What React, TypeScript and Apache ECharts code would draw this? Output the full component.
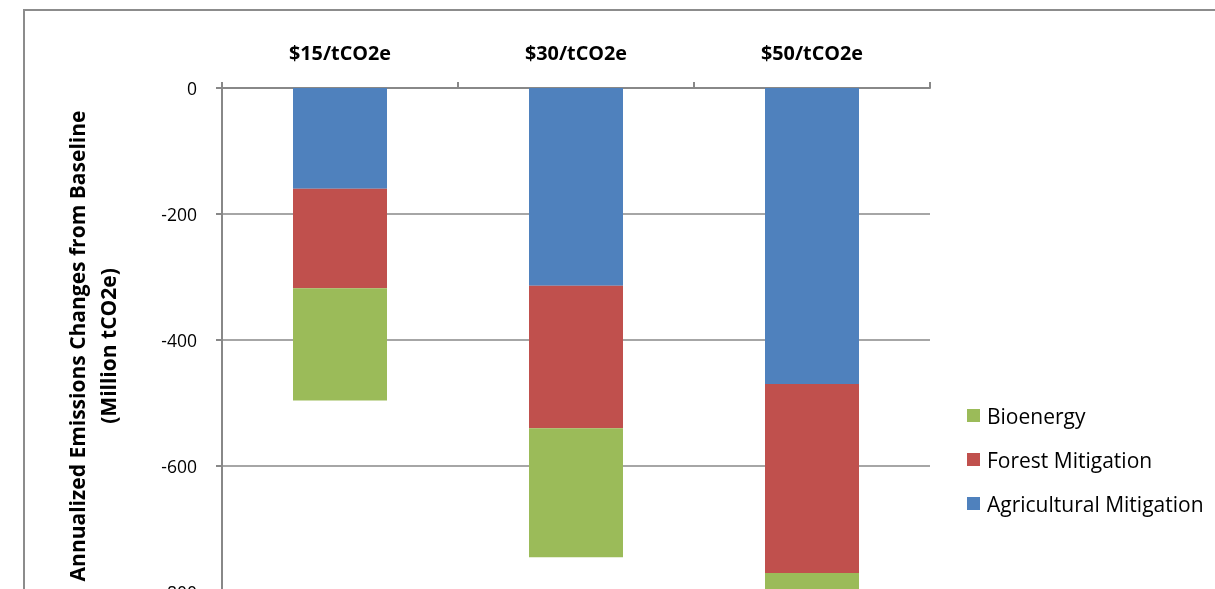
import React, { useEffect, useRef } from "react";
import * as echarts from "echarts";

const categories = ["$15/tCO2e", "$30/tCO2e", "$50/tCO2e"];
const agricultural = [-160, -314, -470];
const forest = [-158, -226, -300];
const bioenergy = [-178, -205, -200];
const yTicks = { min: -1000, max: 0, interval: 200 };

const FONT = "'Open Sans', Lato, sans-serif";

export default function App() {
  const ref = useRef<HTMLDivElement>(null);
  useEffect(() => {
    if (!ref.current) return;
    const chart = echarts.init(ref.current, undefined, { renderer: "svg" });
    chart.setOption({
      animation: false,
      textStyle: { fontFamily: FONT },
      grid: { left: 222, top: 88, width: 708, height: 630, containLabel: false },
      legend: {
        orient: "vertical",
        left: 967,
        top: 405,
        padding: 0,
        itemWidth: 13,
        itemHeight: 13,
        itemGap: 23,
        icon: "rect",
        textStyle: { fontSize: 21, color: "#000", fontFamily: FONT, padding: [0, 0, 0, 2] },
        data: ["Bioenergy", "Forest Mitigation", "Agricultural Mitigation"],
      },
      xAxis: {
        type: "category",
        data: categories,
        position: "top",
        axisLine: { lineStyle: { color: "#888", width: 2 } },
        axisTick: { show: true, length: 6, lineStyle: { color: "#888", width: 2 } },
        axisLabel: { fontSize: 19.8, fontWeight: "bold", color: "#000", margin: 26, fontFamily: FONT },
      },
      yAxis: {
        type: "value",
        min: yTicks.min,
        max: yTicks.max,
        interval: yTicks.interval,
        axisLine: { show: true, lineStyle: { color: "#888", width: 2 } },
        axisTick: { show: true, length: 6, lineStyle: { color: "#888", width: 2 } },
        splitLine: { lineStyle: { color: "#888", width: 1.5 } },
        axisLabel: { fontSize: 17.5, color: "#000", margin: 25, fontFamily: FONT },
      },
      series: [
        {
          name: "Agricultural Mitigation",
          type: "bar",
          stack: "total",
          barWidth: 94,
          data: agricultural,
          itemStyle: { color: "#4F81BD" },
        },
        {
          name: "Forest Mitigation",
          type: "bar",
          stack: "total",
          barWidth: 94,
          data: forest,
          itemStyle: { color: "#C0504D" },
        },
        {
          name: "Bioenergy",
          type: "bar",
          stack: "total",
          barWidth: 94,
          data: bioenergy,
          itemStyle: { color: "#9BBB59" },
        },
      ],
      graphic: [
        {
          type: "rect",
          shape: { x: 24, y: 10, width: 1300, height: 1000 },
          style: { fill: "none", stroke: "#8c8c8c", lineWidth: 2 },
          silent: true,
        },
        {
          type: "text",
          x: 92,
          y: 346,
          rotation: Math.PI / 2,
          style: {
            text: "Annualized Emissions Changes from Baseline\n(Million tCO2e)",
            fontSize: 21,
            fontWeight: "bold",
            fontFamily: FONT,
            fill: "#000",
            align: "center",
            verticalAlign: "middle",
            lineHeight: 31,
          },
        },
      ],
    });
    return () => chart.dispose();
  }, []);
  return (
    <div
      ref={ref}
      style={{ position: "fixed", left: 0, top: 0, width: 1215, height: 800 }}
    />
  );
}
